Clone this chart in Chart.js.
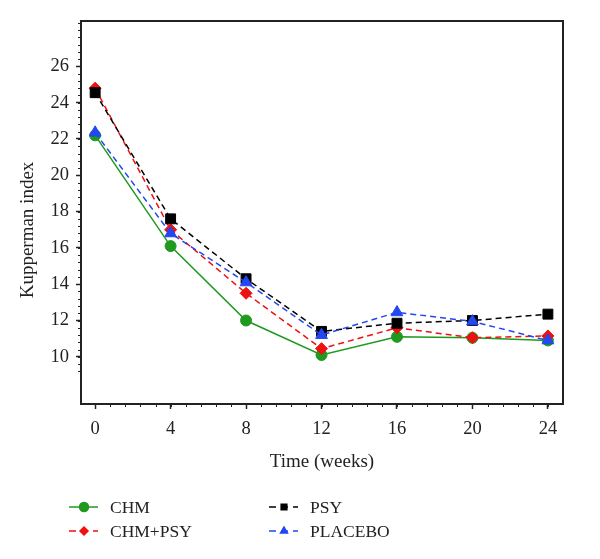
<!DOCTYPE html>
<html lang="en">
<head>
  <meta charset="UTF-8">
  <title>Kupperman index over time</title>
  <script src="https://cdn.jsdelivr.net/npm/chart.js"></script>
  <style>
    body { margin: 0; background: #fff; }
    canvas { display: block; }
  </style>
</head>
<body>
  <canvas id="chart" width="600" height="559"></canvas>
  <script>
    // weeks and group means
    const weeks = [0, 4, 8, 12, 16, 20, 24];
    const chm = [22.2, 16.1, 12.0, 10.1, 11.1, 11.05, 10.9];
    const chmPsy = [24.8, 17.0, 13.5, 10.45, 11.6, 11.05, 11.15];
    const psy = [24.55, 17.6, 14.3, 11.4, 11.85, 12.0, 12.35];
    const placebo = [22.35, 16.8, 14.1, 11.2, 12.45, 11.95, 10.9];

    const xTicks = [0, 4, 8, 12, 16, 20, 24];
    const yTicks = [10, 12, 14, 16, 18, 20, 22, 24, 26];

    const FONT = "'Liberation Serif', 'DejaVu Serif', serif";
    const AXIS = '#222';

    function toPoints(values) {
      return weeks.map((w, i) => ({ x: w, y: values[i] }));
    }

    function series(label, values, color, style, radius, dashed, order) {
      return {
        label: label,
        data: toPoints(values),
        borderColor: color,
        backgroundColor: color,
        borderWidth: 1.5,
        borderDash: dashed ? [6, 4] : [],
        pointStyle: style,
        pointRadius: radius,
        pointBorderWidth: 1,
        order: order
      };
    }

    // frame, minor ticks, y title and legend
    const extras = {
      id: 'extras',
      afterDraw(chart) {
        const ctx = chart.ctx;
        const a = chart.chartArea;
        const xs = chart.scales.x;
        const ys = chart.scales.y;
        ctx.save();
        ctx.strokeStyle = AXIS;
        ctx.lineWidth = 2;
        ctx.strokeRect(a.left, a.top, a.right - a.left, a.bottom - a.top);

        ctx.lineWidth = 1;
        ctx.beginPath();
        for (let v = 0; v <= 24.8; v += 0.8) {
          const px = Math.round(xs.getPixelForValue(v)) + 0.5;
          ctx.moveTo(px, a.bottom);
          ctx.lineTo(px, a.bottom + 3);
        }
        for (let v = 10 - 2 * 0.4; v <= 28.5; v += 0.4) {
          const py = Math.round(ys.getPixelForValue(v)) + 0.5;
          if (py < a.top || py > a.bottom) continue;
          ctx.moveTo(a.left, py);
          ctx.lineTo(a.left - 3, py);
        }
        ctx.stroke();

        // y axis title, sits a little below the middle in the original
        ctx.save();
        ctx.translate(28, 230);
        ctx.rotate(-Math.PI / 2);
        ctx.fillStyle = AXIS;
        ctx.font = '19px ' + FONT;
        ctx.textAlign = 'center';
        ctx.textBaseline = 'middle';
        ctx.fillText('Kupperman index', 0, 0);
        ctx.restore();

        // legend: two columns, line + marker + label
        const slots = [[69, 507], [69, 531], [269, 507], [269, 531]];
        chart.data.datasets.forEach((ds, i) => {
          const [lx, ly] = slots[i];
          ctx.strokeStyle = ds.borderColor;
          ctx.lineWidth = 1.5;
          ctx.setLineDash(ds.borderDash.length ? [7, 5] : []);
          ctx.beginPath();
          ctx.moveTo(lx, ly);
          ctx.lineTo(lx + 29, ly);
          ctx.stroke();
          ctx.setLineDash([]);
          Chart.helpers.drawPoint(ctx, {
            pointStyle: ds.pointStyle,
            radius: ds.pointStyle === 'circle' ? 4.5 : 4,
            rotation: 0,
            borderWidth: 1
          }, lx + 15, ly);
          ctx.fillStyle = ds.borderColor;
          ctx.fill();
          ctx.fillStyle = AXIS;
          ctx.font = '17.5px ' + FONT;
          ctx.textBaseline = 'middle';
          ctx.textAlign = 'left';
          ctx.fillText(ds.label, lx + 41, ly + 1);
        });
        ctx.restore();
      }
    };

    new Chart(document.getElementById('chart'), {
      type: 'line',
      data: {
        datasets: [
          series('CHM', chm, '#1f9a1f', 'circle', 5.5, false, 4),
          series('CHM+PSY', chmPsy, '#ee1111', 'rectRot', 6, true, 3),
          series('PSY', psy, '#000000', 'rect', 7, true, 2),
          series('PLACEBO', placebo, '#2347f0', 'triangle', 6.8, true, 1)
        ]
      },
      options: {
        responsive: false,
        animation: false,
        layout: { padding: { left: 0, top: 21, right: 37, bottom: 77 } },
        plugins: {
          legend: { display: false },
          tooltip: { enabled: false }
        },
        scales: {
          x: {
            type: 'linear',
            min: -0.75,
            max: 24.8,
            afterBuildTicks: s => { s.ticks = xTicks.map(v => ({ value: v })); },
            afterFit: s => { s.height = 78; },
            grid: { drawOnChartArea: false, tickLength: 5, tickColor: AXIS, tickWidth: 1.5 },
            border: { color: AXIS, width: 2 },
            ticks: { color: AXIS, font: { family: FONT, size: 18.5 }, padding: 9, maxRotation: 0 },
            title: { display: true, text: 'Time (weeks)', color: AXIS, font: { family: FONT, size: 19 }, padding: { bottom: 9 } }
          },
          y: {
            min: 7.4,
            max: 28.5,
            afterBuildTicks: s => { s.ticks = yTicks.map(v => ({ value: v })); },
            afterFit: s => { s.width = 81; },
            grid: { drawOnChartArea: false, tickLength: 5, tickColor: AXIS, tickWidth: 1.5 },
            border: { color: AXIS, width: 2 },
            ticks: { color: AXIS, font: { family: FONT, size: 18.5 }, padding: 7 },
            title: { display: false }
          }
        }
      },
      plugins: [extras]
    });
  </script>
</body>
</html>
